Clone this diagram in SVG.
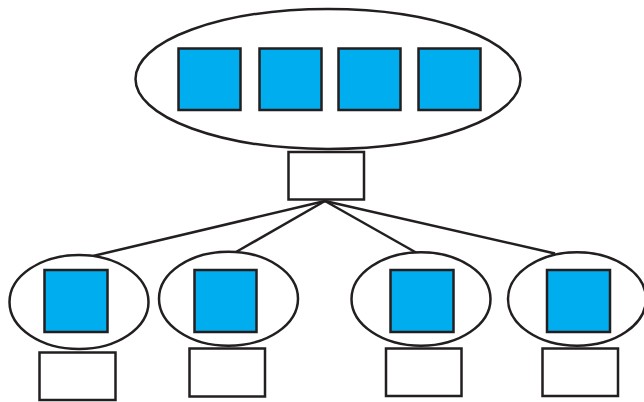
<svg xmlns="http://www.w3.org/2000/svg" width="644" height="402" viewBox="0 0 644 402">
<style>
.o{fill:#fff;stroke:#231f20;stroke-width:2.5}
.b{fill:#00aeef;stroke:#231f20;stroke-width:2.5}
.c{stroke:#231f20;stroke-width:2.5;fill:none}
</style>
<rect width="644" height="402" fill="#fff"/>
<g id="connectors">
<line class="c" x1="325" y1="201" x2="93" y2="256"/>
<line class="c" x1="325" y1="201" x2="236" y2="252"/>
<line class="c" x1="325" y1="201" x2="416" y2="252.5"/>
<line class="c" x1="325" y1="201" x2="555" y2="253.5"/>
</g>
<g id="top">
<ellipse class="o" cx="328" cy="79" rx="192.5" ry="70"/>
<rect class="b" x="178.5" y="48.5" width="62" height="61.5"/>
<rect class="b" x="259.5" y="48.5" width="62" height="61.5"/>
<rect class="b" x="338.5" y="48.5" width="62" height="61.5"/>
<rect class="b" x="418.5" y="48.5" width="62" height="61.5"/>
</g>
<g id="hub">
<rect class="o" x="288.5" y="152" width="75.5" height="47.5"/>
</g>
<g id="node1">
<ellipse class="o" cx="79" cy="302" rx="69.5" ry="47"/>
<rect class="b" x="44.5" y="270" width="63" height="62"/>
<rect class="o" x="39.5" y="352.5" width="76" height="47.5"/>
</g>
<g id="node2">
<ellipse class="o" cx="228.5" cy="298.7" rx="69.5" ry="47"/>
<rect class="b" x="194.5" y="270" width="62" height="62"/>
<rect class="o" x="189.5" y="348.5" width="75.5" height="48"/>
</g>
<g id="node3">
<ellipse class="o" cx="421" cy="299" rx="69.5" ry="46.7"/>
<rect class="b" x="390.5" y="270" width="63" height="62"/>
<rect class="o" x="386" y="348.5" width="75.5" height="47.5"/>
</g>
<g id="node4">
<ellipse class="o" cx="577" cy="299" rx="69" ry="46.7"/>
<rect class="b" x="547" y="270" width="63" height="62"/>
<rect class="o" x="542.5" y="348.5" width="75.5" height="47.5"/>
</g>
</svg>
